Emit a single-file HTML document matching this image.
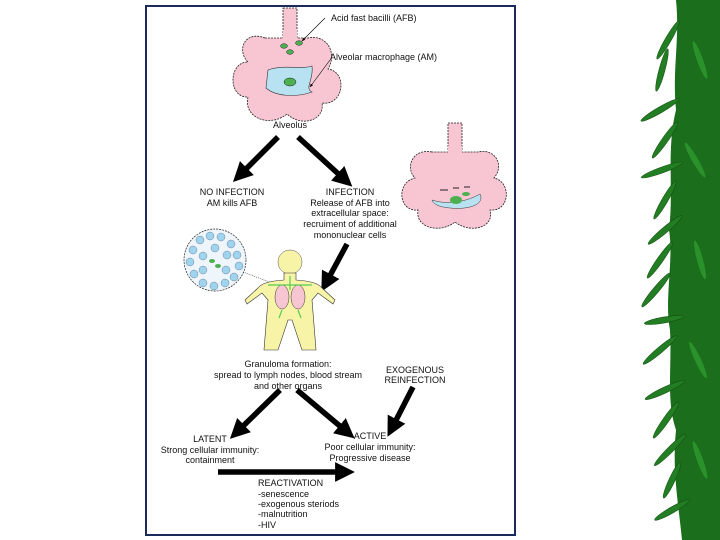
<!DOCTYPE html><html><head><style>body{margin:0;background:#fff}svg{display:block}text{font-family:"Liberation Sans",sans-serif;font-size:9px;fill:#111}</style></head><body>
<svg width="720" height="540" viewBox="0 0 720 540">
<defs>
<marker id="ah" viewBox="0 0 10 10" refX="5" refY="5" markerWidth="3.6" markerHeight="3.6" orient="auto"><path d="M0,0L10,5L0,10z" fill="#000"/></marker>
<marker id="sa" viewBox="0 0 10 10" refX="9" refY="5" markerWidth="6" markerHeight="6" orient="auto"><path d="M0,1L10,5L0,9z" fill="#000"/></marker>
</defs>
<rect x="146" y="6" width="369" height="529" fill="#fff" stroke="#1a2a5a" stroke-width="2"/>
<g fill="#f7c6d2" stroke="#222" stroke-width="0.8" stroke-dasharray="2,1">
<rect x="283" y="8" width="14" height="30"/>
<path d="M265,38 C245,30 236,50 248,62 C228,62 228,98 248,97 C243,118 270,128 287,114 C302,128 325,120 322,103 C344,106 348,72 328,69 C338,52 326,34 308,38 Z"/>
<path d="M448,123h14v28h-14z"/>
<path d="M432,152 C412,148 405,168 415,178 C396,182 398,212 418,210 C415,228 440,234 455,222 C470,234 495,228 490,210 C510,212 512,182 494,178 C505,165 495,148 478,152 Z"/>
</g>
<rect x="283" y="30" width="14" height="12" fill="#f7c6d2"/><rect x="448" y="146" width="14" height="10" fill="#f7c6d2"/>
<path d="M268,70 C285,64 300,70 312,66 C314,80 304,88 312,92 C295,98 275,96 266,88 Z" fill="#b8e2f2" stroke="#333" stroke-width="0.6"/>
<ellipse cx="290" cy="82" rx="6" ry="4" fill="#4caf50" stroke="#222" stroke-width="0.5"/>
<ellipse cx="284" cy="46" rx="3.5" ry="2.3" fill="#4caf50" stroke="#222" stroke-width="0.5"/>
<ellipse cx="299" cy="43" rx="3.5" ry="2.3" fill="#4caf50" stroke="#222" stroke-width="0.5"/>
<ellipse cx="290" cy="52" rx="3.5" ry="2.3" fill="#4caf50" stroke="#222" stroke-width="0.5"/>
<path d="M432,200 C450,206 470,200 480,194 C485,204 470,210 450,208 C440,207 434,205 432,200Z" fill="#b8e2f2" stroke="#333" stroke-width="0.5"/>
<ellipse cx="456" cy="200" rx="6" ry="4" fill="#4caf50"/><ellipse cx="466" cy="194" rx="4" ry="2" fill="#4caf50"/>
<path d="M440,190h8M453,188h6M464,187h6" stroke="#222" stroke-width="1"/>
<line x1="325" y1="18" x2="302" y2="41" stroke="#000" stroke-width="0.6" marker-end="url(#sa)"/>
<line x1="330" y1="60" x2="310" y2="87" stroke="#000" stroke-width="0.6" marker-end="url(#sa)"/>
<text x="331" y="21">Acid fast bacilli (AFB)</text>
<text x="330" y="60">Alveolar macrophage (AM)</text>
<text x="290" y="128" text-anchor="middle">Alveolus</text>
<g stroke="#000" stroke-width="5.5" marker-end="url(#ah)">
<line x1="278" y1="137" x2="240" y2="175"/>
<line x1="298" y1="137" x2="345" y2="180"/>
<line x1="347" y1="244" x2="326" y2="283"/>
<line x1="280" y1="390" x2="237" y2="432"/>
<line x1="297" y1="390" x2="347" y2="432"/>
<line x1="413" y1="387" x2="392" y2="428"/>
<line x1="218" y1="472" x2="345" y2="472"/>
</g>
<g text-anchor="middle">
<text x="232" y="195">NO INFECTION</text><text x="232" y="206">AM kills AFB</text>
<text x="350" y="195">INFECTION</text><text x="350" y="206">Release of AFB into</text><text x="350" y="216">extracellular space:</text><text x="350" y="227">recruiment of additional</text><text x="350" y="238">mononuclear cells</text>
<text x="288" y="367">Granuloma formation:</text><text x="288" y="378">spread to lymph nodes, blood stream</text><text x="288" y="389">and other organs</text>
<text x="415" y="373">EXOGENOUS</text><text x="415" y="383">REINFECTION</text>
<text x="210" y="442">LATENT</text><text x="210" y="453">Strong cellular immunity:</text><text x="210" y="463">containment</text>
<text x="370" y="439">ACTIVE</text><text x="370" y="450">Poor cellular immunity:</text><text x="370" y="461">Progressive disease</text>
</g>
<text x="258" y="486">REACTIVATION</text><text x="258" y="497">-senescence</text><text x="258" y="507">-exogenous steriods</text><text x="258" y="517">-malnutrition</text><text x="258" y="528">-HIV</text>
<circle cx="215" cy="260" r="31" fill="#eef6fb" stroke="#222" stroke-width="0.7" stroke-dasharray="2,1"/>
<g fill="#9fd4ee" stroke="#446" stroke-width="0.3">
<circle cx="200" cy="240" r="4"/><circle cx="210" cy="236" r="4"/><circle cx="221" cy="237" r="4"/><circle cx="231" cy="244" r="4"/><circle cx="193" cy="250" r="4"/><circle cx="237" cy="255" r="4"/><circle cx="190" cy="262" r="4"/><circle cx="239" cy="266" r="4"/><circle cx="194" cy="274" r="4"/><circle cx="234" cy="277" r="4"/><circle cx="203" cy="283" r="4"/><circle cx="214" cy="286" r="4"/><circle cx="225" cy="283" r="4"/><circle cx="203" cy="256" r="4"/><circle cx="227" cy="255" r="4"/><circle cx="203" cy="270" r="4"/><circle cx="226" cy="270" r="4"/><circle cx="215" cy="248" r="4"/>
</g>
<ellipse cx="212" cy="261" rx="3" ry="2" fill="#4caf50"/><ellipse cx="218" cy="266" rx="3" ry="2" fill="#4caf50"/>
<line x1="243" y1="272" x2="272" y2="283" stroke="#000" stroke-width="0.5" stroke-dasharray="1,1"/>
<circle cx="290" cy="262" r="12" fill="#f7f4a8" stroke="#555" stroke-width="0.5"/>
<path d="M284,273h12v7 C310,281 318,283 322,288 L335,300 L333,304 L318,293 L312,300 L316,350 H302 L292,320 L288,320 L278,350 H264 L268,300 L262,293 L247,304 L245,300 L258,288 C262,283 270,281 284,280Z" fill="#f7f4a8" stroke="#333" stroke-width="0.6"/>
<ellipse cx="282" cy="297" rx="7" ry="12" fill="#f7c6d2" stroke="#333" stroke-width="0.5"/><ellipse cx="298" cy="297" rx="7" ry="12" fill="#f7c6d2" stroke="#333" stroke-width="0.5"/>
<path d="M268,285L312,285M290,276V290M282,310L279,318M298,310L301,318" stroke="#5c5" stroke-width="1.2"/>
<!-- bamboo -->
<path d="M676,0H720V540H682C678,500 672,470 676,430C666,400 672,370 670,330C664,300 674,260 669,230C674,190 666,150 676,110C672,70 680,40 676,0Z" fill="#1b6e1b"/>
<g fill="#237d23" stroke="#0f4a0f" stroke-width="0.5">
<ellipse cx="668" cy="40" rx="22" ry="3" transform="rotate(-60 668 40)"/>
<ellipse cx="662" cy="70" rx="22" ry="3" transform="rotate(-75 662 70)"/>
<ellipse cx="660" cy="110" rx="22" ry="3" transform="rotate(-30 660 110)"/>
<ellipse cx="665" cy="140" rx="22" ry="3" transform="rotate(-55 665 140)"/>
<ellipse cx="662" cy="170" rx="22" ry="3" transform="rotate(-20 662 170)"/>
<ellipse cx="665" cy="200" rx="22" ry="3" transform="rotate(-60 665 200)"/>
<ellipse cx="665" cy="230" rx="22" ry="3" transform="rotate(-40 665 230)"/>
<ellipse cx="660" cy="260" rx="22" ry="3" transform="rotate(-55 660 260)"/>
<ellipse cx="656" cy="290" rx="22" ry="3" transform="rotate(-50 656 290)"/>
<ellipse cx="664" cy="320" rx="20" ry="3" transform="rotate(-10 664 320)"/>
<ellipse cx="660" cy="350" rx="22" ry="3" transform="rotate(-40 660 350)"/>
<ellipse cx="665" cy="390" rx="22" ry="3" transform="rotate(-25 665 390)"/>
<ellipse cx="666" cy="420" rx="22" ry="3" transform="rotate(-55 666 420)"/>
<ellipse cx="670" cy="450" rx="22" ry="3" transform="rotate(-45 670 450)"/>
<ellipse cx="672" cy="480" rx="20" ry="3" transform="rotate(-65 672 480)"/>
<ellipse cx="672" cy="510" rx="20" ry="3" transform="rotate(-30 672 510)"/>
</g>
<g fill="#2f9a2f" opacity="0.8">
<ellipse cx="700" cy="60" rx="20" ry="3" transform="rotate(70 700 60)"/>
<ellipse cx="695" cy="160" rx="20" ry="3" transform="rotate(60 695 160)"/>
<ellipse cx="700" cy="260" rx="20" ry="3" transform="rotate(75 700 260)"/>
<ellipse cx="698" cy="360" rx="20" ry="3" transform="rotate(65 698 360)"/>
<ellipse cx="700" cy="460" rx="20" ry="3" transform="rotate(70 700 460)"/>
</g>
</svg></body></html>
